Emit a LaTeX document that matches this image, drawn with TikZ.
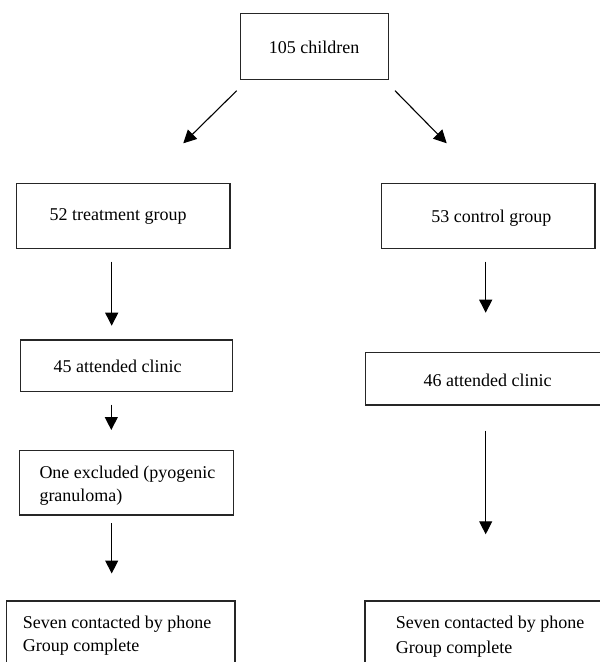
\documentclass[tikz,border=0pt]{standalone}
\usepackage{fontspec}
\setmainfont{Liberation Serif}
\usetikzlibrary{arrows.meta}
\begin{document}
\begin{tikzpicture}[x=1pt,y=-1pt,
  box/.style={draw=black!85, line width=1.1pt, inner sep=0pt, rectangle},
  txt/.style={inner sep=0pt, font=\fontsize{18}{22}\selectfont, text=black},
  arr/.style={line width=1.1pt, -{Triangle[length=13pt,width=13pt]}}]
\useasboundingbox (0,0) rectangle (600,662);
\clip (0,0) rectangle (600,662);
% boxes
\node[box, minimum width=148.3pt, minimum height=65.7pt] (top) at (314.2,46.2) {};
\node[box, minimum width=213.3pt, minimum height=65pt] (treat) at (123.3,215.8) {};
\node[box, minimum width=213.3pt, minimum height=65pt] (ctrl) at (488.3,215.8) {};
\node[box, minimum width=212.3pt, minimum height=51.7pt] (att45) at (126.2,365.8) {};
\node[box, minimum width=274.5pt, minimum height=52.3pt] (att46) at (502.75,378.85) {};
\node[box, minimum width=214.2pt, minimum height=64.3pt] (excl) at (126.4,482.85) {};
\node[box, minimum width=228.3pt, minimum height=99pt] (botL) at (120.85,650.5) {};
\node[box, minimum width=275pt, minimum height=99pt] (botR) at (502.5,650.5) {};
% texts
\node[txt, anchor=base] (ttop) at (314,53.5) {105 children};
\node[txt, anchor=base] (ttreat) at (118,220) {52 treatment group};
\node[txt, anchor=base] (tctrl) at (491.3,222.7) {53 control group};
\node[txt, anchor=base] (tatt45) at (117.5,372.7) {45 attended clinic};
\node[txt, anchor=base] (tatt46) at (487.5,386.7) {46 attended clinic};
\node[txt, anchor=base west] (texcla) at (39.3,478.3) {One excluded (pyogenic};
\node[txt, anchor=base west] (texclb) at (39.3,501.5) {granuloma)};
\node[txt, anchor=base west] (tbotLa) at (22.7,628.3) {Seven contacted by phone};
\node[txt, anchor=base west] (tbotLb) at (22.7,651.7) {Group complete};
\node[txt, anchor=base west] (tbotRa) at (395.7,628.3) {Seven contacted by phone};
\node[txt, anchor=base west] (tbotRb) at (395.7,653.3) {Group complete};
% arrow end points
\coordinate (d1s) at (236.7,90.7);
\coordinate (d1e) at (183.3,143.3);
\coordinate (d2s) at (395,90.7);
\coordinate (d2e) at (446.7,143.3);
\coordinate (a1s) at (111.7,261.7);
\coordinate (a1e) at (111.7,325.7);
\coordinate (a2s) at (485.7,261.7);
\coordinate (a2e) at (485.7,312.7);
\coordinate (a3s) at (111.3,404.5);
\coordinate (a3e) at (111.3,430);
\coordinate (a4s) at (111.7,523);
\coordinate (a4e) at (111.7,573.5);
\coordinate (a5s) at (485.7,430.7);
\coordinate (a5e) at (485.7,534.3);
% arrows
\draw[arr] (d1s) -- (d1e);
\draw[arr] (d2s) -- (d2e);
\draw[arr] (a1s) -- (a1e);
\draw[arr] (a2s) -- (a2e);
\draw[arr] (a3s) -- (a3e);
\draw[arr] (a4s) -- (a4e);
\draw[arr] (a5s) -- (a5e);
\end{tikzpicture}
\end{document}
